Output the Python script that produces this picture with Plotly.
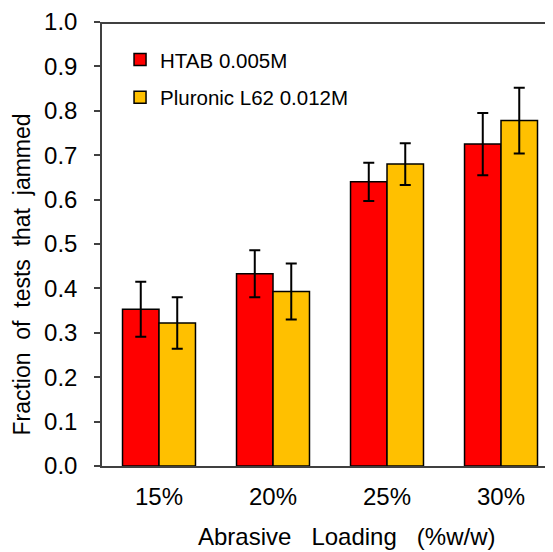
import plotly.graph_objects as go

categories = ["15%", "20%", "25%", "30%"]
htab_values = [0.353, 0.433, 0.640, 0.725]
htab_errors = [0.062, 0.053, 0.043, 0.070]
pluronic_values = [0.322, 0.393, 0.680, 0.778]
pluronic_errors = [0.058, 0.063, 0.047, 0.074]
y_ticks = [0.0, 0.1, 0.2, 0.3, 0.4, 0.5, 0.6, 0.7, 0.8, 0.9, 1.0]

FONT = "Liberation Sans, Arial, sans-serif"

fig = go.Figure()
fig.add_trace(go.Bar(
    name="HTAB 0.005M", x=categories, y=htab_values,
    marker=dict(color="#FF0000", line=dict(color="black", width=1.5)),
    error_y=dict(type="data", array=htab_errors, color="black", thickness=2, width=5.5),
    legendgroup="a",
))
fig.add_trace(go.Bar(
    name="Pluronic L62 0.012M", x=categories, y=pluronic_values,
    marker=dict(color="#FFC000", line=dict(color="black", width=1.5)),
    error_y=dict(type="data", array=pluronic_errors, color="black", thickness=2, width=5.5),
    legendgroup="b",
))

fig.add_annotation(text="Abrasive   Loading   (%w/w)", xref="paper", yref="paper",
                   x=0.542, y=-0.159, xanchor="center", yanchor="middle",
                   showarrow=False, font=dict(size=24))
fig.add_annotation(text="Fraction  of  tests  that  jammed", xref="paper", yref="paper",
                   x=-0.177, y=0.4316, xanchor="center", yanchor="middle", textangle=-90,
                   showarrow=False, font=dict(size=23))
fig.add_shape(type="line", xref="paper", yref="paper", x0=0, x1=1, y0=0.998, y1=0.998,
              line=dict(color="#404040", width=2), layer="above")

fig.update_layout(
    width=545, height=544,
    margin=dict(l=94, r=0, t=12, b=86),
    paper_bgcolor="white", plot_bgcolor="white",
    font=dict(family=FONT, color="black", size=24),
    barmode="group", bargap=0.36, bargroupgap=0,
    showlegend=True,
    legend=dict(x=0.04, y=0.96, xanchor="left", yanchor="top",
                font=dict(size=20.5), bgcolor="rgba(0,0,0,0)",
                tracegroupgap=8, itemwidth=30),
    xaxis=dict(range=[-0.5, 3.456], showline=True, linecolor="#404040", linewidth=1.5,
               mirror=False, ticks="", showgrid=False, tickfont=dict(size=24),
               ticklabelstandoff=8),
    yaxis=dict(range=[0, 1.0], tickvals=y_ticks, tickformat=".1f",
               showline=True, linecolor="#404040", linewidth=1.5,
               ticks="outside", ticklen=6, tickcolor="#404040", tickwidth=1.5,
               ticklabelstandoff=12, tickfont=dict(size=24), ticklabeloverflow="allow",
               showgrid=False, zeroline=False),
)

fig.write_html("out.html")
